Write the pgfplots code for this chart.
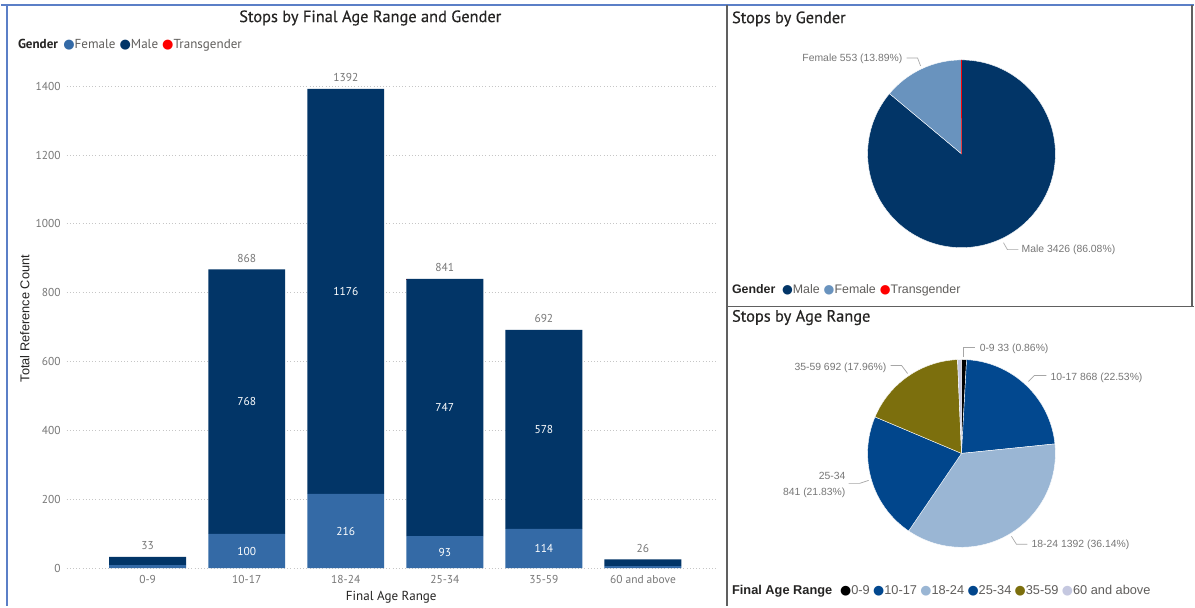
\documentclass[border=0pt]{standalone}
\usepackage{pgfplots}
\pgfplotsset{compat=1.18}
\usepackage{pgfplotstable}
\usepackage{fontspec}
\setmainfont{PT Sans}
\newfontfamily\sym{DejaVu Sans}
\newfontfamily\seg{Liberation Sans}
\newcommand{\ttlfont}{\fontsize{12.3}{14}\selectfont\addfontfeature{FakeBold=0.35}}

\definecolor{male}{HTML}{023567}
\definecolor{femalebar}{HTML}{346AA6}
\definecolor{femalepie}{HTML}{6993BE}
\definecolor{trans}{HTML}{FF0000}
\definecolor{ageA}{HTML}{000000}
\definecolor{ageB}{HTML}{02488F}
\definecolor{ageC}{HTML}{9AB6D4}
\definecolor{ageD}{HTML}{01468C}
\definecolor{ageE}{HTML}{7C6F0D}
\definecolor{ageF}{HTML}{C5C8E0}
\definecolor{txt}{HTML}{252423}
\definecolor{lbl}{HTML}{605E5C}
\definecolor{ticktxt}{HTML}{777777}
\definecolor{frameblue}{HTML}{5B7FC7}
\definecolor{framegray}{HTML}{606060}

% stacked bars: final age range x gender
\pgfplotstableread{
x female male trans
0 9 24 0
1 100 768 0
2 216 1176 0
3 93 747 1
4 114 578 0
5 6 20 0
}\bardata

% gender pie
\def\gM{3426}\def\gF{553}\def\gT{1}
\pgfmathsetmacro\gTot{\gM+\gF+\gT}
\pgfmathsetmacro\gA{90}
\pgfmathsetmacro\gB{\gA-360*(\gM/\gTot)}
\pgfmathsetmacro\gC{\gB-360*(\gF/\gTot)}
\pgfmathsetmacro\gD{\gC-360*(\gT/\gTot)}

% age pie
\def\pA{33}\def\pB{868}\def\pC{1392}\def\pD{841}\def\pE{692}\def\pF{26}
\pgfmathsetmacro\pTot{\pA+\pB+\pC+\pD+\pE+\pF}
\pgfmathsetmacro\aA{90}
\pgfmathsetmacro\aB{\aA-360*(\pA/\pTot)}
\pgfmathsetmacro\aC{\aB-360*(\pB/\pTot)}
\pgfmathsetmacro\aD{\aC-360*(\pC/\pTot)}
\pgfmathsetmacro\aE{\aD-360*(\pD/\pTot)}
\pgfmathsetmacro\aF{\aE-360*(\pE/\pTot)}
\pgfmathsetmacro\aG{\aF-360*(\pF/\pTot)}

\newcommand{\slice}[3]{\fill[#3, draw=white, line width=0.3pt] (axis cs:0,0) -- ++(#1:70.5pt) arc[start angle=#1, end angle=#2, radius=70.5pt] -- cycle;}

\begin{document}
\begin{tikzpicture}
% ---------- frame (px coordinates, y downwards) ----------
\begin{scope}[x=0.75pt,y=-0.75pt]
\fill[white] (0,0) rectangle (1195,607);
\draw[frameblue, line width=1.2pt] (0,5) -- (1195,5);
\draw[frameblue, line width=1.2pt] (6,5) -- (6,607);
\draw[framegray, line width=1.1pt] (727,5) -- (727,607);
\draw[framegray, line width=1.1pt] (1193,5) -- (1193,307);
\draw[framegray, line width=1.1pt] (727,307) -- (1195,307);

% left panel title and legend
\node[txt, font=\ttlfont] at (370,18) {Stops by Final Age Range and Gender};
\node[lbl, anchor=west, font=\fontsize{9.8}{11}\selectfont, inner sep=0pt] at (17,45)
  {\textcolor{txt}{\bfseries Gender}\hspace{4pt}{\sym\textcolor{femalebar}{●}}Female\hspace{3pt}{\sym\textcolor{male}{●}}Male\hspace{3pt}{\sym\textcolor{trans}{●}}Transgender};

% right panels titles
\node[txt, anchor=west, inner sep=0pt, font=\ttlfont] at (732,19) {Stops by Gender};
\node[txt, anchor=west, inner sep=0pt, font=\ttlfont] at (732,318) {Stops by Age Range};

% legends right
\node[lbl, anchor=west, inner sep=0pt, font=\seg\fontsize{9.3}{11}\selectfont] at (732,291)
  {\textcolor{txt}{\bfseries Gender}\hspace{5pt}{\sym\textcolor{male}{●}}Male\hspace{3pt}{\sym\textcolor{femalepie}{●}}Female\hspace{3pt}{\sym\textcolor{trans}{●}}Transgender};
\node[lbl, anchor=west, inner sep=0pt, font=\seg\fontsize{9.6}{11}\selectfont] at (732,592)
  {\textcolor{txt}{\bfseries Final Age Range}\hspace{6pt}{\sym\textcolor{ageA}{●}}0-9\hspace{2.5pt}{\sym\textcolor{ageB}{●}}10-17\hspace{2.5pt}{\sym\textcolor{ageC}{●}}18-24\hspace{2.5pt}{\sym\textcolor{ageD}{●}}25-34\hspace{2.5pt}{\sym\textcolor{ageE}{●}}35-59\hspace{2.5pt}{\sym\textcolor{ageF}{●}}60 and above};

% gender pie labels
\begin{scope}[ticktxt, font=\seg\fontsize{7.8}{9}\selectfont, inner sep=0pt]
\draw[gray!70, line width=0.5pt] (907,58) -- (918,58) -- (921,66);
\node[anchor=east] at (903,59) {Female 553 (13.89\%)};
\draw[gray!70, line width=0.5pt] (1004,243) -- (1008,250) -- (1019,250);
\node[anchor=west] at (1022,250) {Male 3426 (86.08\%)};
% age pie labels
\draw[gray!70, line width=0.5pt] (964,357) -- (964,348) -- (975,348);
\node[anchor=west] at (980,349) {0-9 33 (0.86\%)};
\draw[gray!70, line width=0.5pt] (1029,382) -- (1035,376) -- (1047,376);
\node[anchor=west] at (1051,378) {10-17 868 (22.53\%)};
\draw[gray!70, line width=0.5pt] (1012,537) -- (1017,545) -- (1028,545);
\node[anchor=west] at (1032,546) {18-24 1392 (36.14\%)};
\draw[gray!70, line width=0.5pt] (849,484) -- (860,484) -- (869,481);
\node[anchor=east, align=right] at (846,486) {25-34\\[3pt]841 (21.83\%)};
\draw[gray!70, line width=0.5pt] (891,366) -- (902,366) -- (908,374);
\node[anchor=east] at (887,368) {35-59 692 (17.96\%)};
\end{scope}
\end{scope}

% ---------- stacked bar chart ----------
\begin{axis}[
  at={(49.5pt,-426.75pt)}, anchor=south west,
  scale only axis, width=487.5pt, height=375pt,
  ybar stacked, bar width=57.75pt,
  xmin=-0.817, xmax=5.736, ymin=0, ymax=1450,
  axis line style={draw=none}, tick style={draw=none},
  ymajorgrids, grid style={dotted, gray!45, line width=0.6pt},
  ytick={0,200,...,1400},
  xtick={0,1,2,3,4,5},
  xticklabels={0-9,10-17,18-24,25-34,35-59,60 and above},
  /pgf/number format/assume math mode=true,
  /pgf/number format/1000 sep={},
  tick label style={text=ticktxt, font=\fontsize{8.6}{10}\selectfont},
  yticklabel style={xshift=-1pt},
  xticklabel style={yshift=-1.5pt},
  xlabel={Final Age Range},
  xlabel style={text=txt, font=\fontsize{9.8}{11}\selectfont, at={(axis description cs:0.5,0)}, anchor=center, yshift=-21.75pt},
  ylabel={Total Reference Count},
  ylabel style={text=txt, font=\seg\fontsize{9.6}{11}\selectfont, at={(axis description cs:0,0.5)}, anchor=center, yshift=31.5pt},
  clip=false,
]
\addplot[fill=femalebar, draw=none] table[x=x,y=female]{\bardata};
\addplot[fill=male, draw=none] table[x=x,y=male]{\bardata};
\addplot[fill=trans, draw=none] table[x=x,y=trans]{\bardata};
% anchor points for value labels
\coordinate (t0) at (axis cs:0,40);
\coordinate (t1) at (axis cs:1,875);
\coordinate (t2) at (axis cs:2,1399);
\coordinate (t3) at (axis cs:3,848);
\coordinate (t4) at (axis cs:4,699);
\coordinate (t5) at (axis cs:5,33);
\coordinate (m1) at (axis cs:1,484);
\coordinate (m2) at (axis cs:2,804);
\coordinate (m3) at (axis cs:3,466);
\coordinate (m4) at (axis cs:4,403);
\coordinate (f1) at (axis cs:1,50);
\coordinate (f2) at (axis cs:2,108);
\coordinate (f3) at (axis cs:3,46);
\coordinate (f4) at (axis cs:4,57);
\end{axis}
\begin{scope}[font=\fontsize{8.6}{10}\selectfont]
\node[text=ticktxt, anchor=south] at (t0) {33};
\node[text=ticktxt, anchor=south] at (t1) {868};
\node[text=ticktxt, anchor=south] at (t2) {1392};
\node[text=ticktxt, anchor=south] at (t3) {841};
\node[text=ticktxt, anchor=south] at (t4) {692};
\node[text=ticktxt, anchor=south] at (t5) {26};
\node[text=white] at (m1) {768};
\node[text=white] at (m2) {1176};
\node[text=white] at (m3) {747};
\node[text=white] at (m4) {578};
\node[text=white] at (f1) {100};
\node[text=white] at (f2) {216};
\node[text=white] at (f3) {93};
\node[text=white] at (f4) {114};
\end{scope}

% ---------- gender pie ----------
\begin{axis}[
  at={(721.5pt,-115.5pt)}, anchor=center,
  scale only axis, width=141pt, height=141pt,
  xmin=-1, xmax=1, ymin=-1, ymax=1, hide axis, clip=false]
\slice{\gA}{\gB}{male}
\slice{\gB}{\gC}{femalepie}
\fill[trans] (axis cs:0,0) -- ++(\gC:70.5pt) arc[start angle=\gC, end angle=\gD, radius=70.5pt] -- cycle;
\draw[trans, line width=0.4pt] (axis cs:0,0) -- ++(\gD:70.5pt);
\end{axis}

% ---------- age pie ----------
\begin{axis}[
  at={(721.5pt,-340.5pt)}, anchor=center,
  scale only axis, width=141pt, height=141pt,
  xmin=-1, xmax=1, ymin=-1, ymax=1, hide axis, clip=false]
\slice{\aA}{\aB}{ageA}
\slice{\aB}{\aC}{ageB}
\slice{\aC}{\aD}{ageC}
\slice{\aD}{\aE}{ageD}
\slice{\aE}{\aF}{ageE}
\slice{\aF}{\aG}{ageF}
\end{axis}
\end{tikzpicture}
\end{document}
